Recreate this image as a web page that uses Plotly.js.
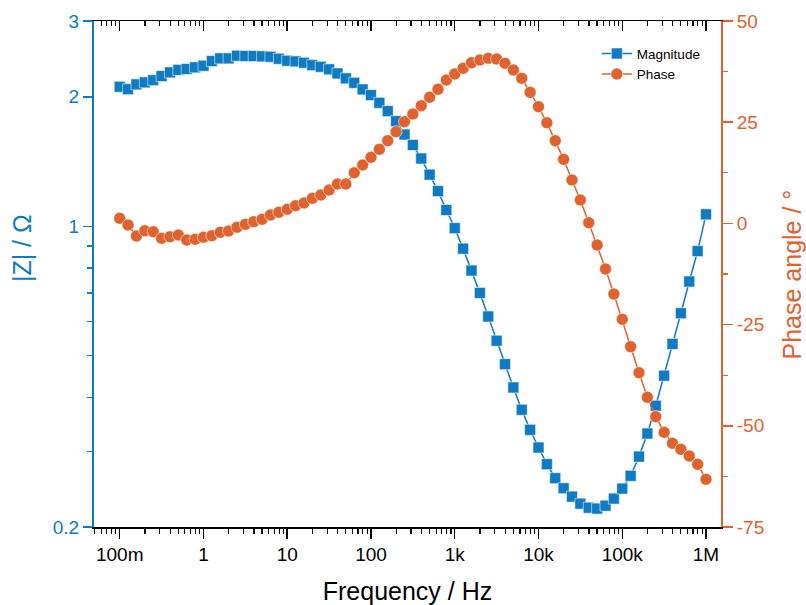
<!DOCTYPE html>
<html>
<head>
<meta charset="utf-8">
<script src="https://cdn.plot.ly/plotly-3.0.1.min.js"></script>
<style>
  html, body { margin: 0; padding: 0; background: #ffffff; }
  #chart { width: 806px; height: 605px; }
</style>
</head>
<body>
<div id="chart"></div>
<script>
// Impedance spectrum (Bode representation): |Z| on a log scale, phase angle on a linear scale
const frequency = [
  0.1, 0.1259, 0.1585, 0.1995, 0.2512, 0.3162, 0.3981, 0.5012, 0.631, 0.7943,
  1, 1.259, 1.585, 1.995, 2.512, 3.162, 3.981, 5.012, 6.31, 7.943,
  10, 12.59, 15.85, 19.95, 25.12, 31.62, 39.81, 50.12, 63.1, 79.43,
  100, 125.9, 158.5, 199.5, 251.2, 316.2, 398.1, 501.2, 631, 794.3,
  1000, 1259, 1585, 1995, 2512, 3162, 3981, 5012, 6310, 7943,
  10000, 12590, 15850, 19950, 25120, 31620, 39810, 50120, 63100, 79430,
  100000, 125900, 158500, 199500, 251200, 316200, 398100, 501200, 631000, 794300,
  1000000
];

const magnitude = [
  2.110, 2.083, 2.137, 2.160, 2.186, 2.234, 2.279, 2.310, 2.320, 2.341,
  2.361, 2.421, 2.456, 2.456, 2.491, 2.487, 2.487, 2.483, 2.477, 2.451,
  2.425, 2.417, 2.399, 2.369, 2.348, 2.316, 2.266, 2.207, 2.155, 2.080,
  2.018, 1.936, 1.852, 1.755, 1.634, 1.545, 1.437, 1.318, 1.207, 1.091,
  0.990, 0.887, 0.789, 0.700, 0.617, 0.542, 0.478, 0.422, 0.3746, 0.3364,
  0.3060, 0.2799, 0.2597, 0.2461, 0.2353, 0.2266, 0.2218, 0.2207, 0.2242, 0.2328,
  0.2456, 0.2630, 0.2915, 0.3298, 0.3827, 0.4495, 0.5328, 0.6279, 0.7440, 0.8755,
  1.066
];

const phase = [
  1.26, -0.40, -3.11, -1.80, -2.05, -3.68, -3.29, -2.87, -4.10, -3.93,
  -3.43, -3.04, -2.20, -1.88, -0.96, -0.22, 0.42, 1.01, 2.07, 2.74,
  3.48, 4.37, 5.04, 6.20, 7.02, 8.25, 9.73, 9.73, 12.52, 14.43,
  16.33, 18.30, 20.43, 22.65, 25.12, 27.03, 29.08, 31.15, 33.13, 35.42,
  36.91, 38.32, 39.70, 40.37, 40.79, 40.61, 39.55, 37.90, 35.84, 32.39,
  28.83, 24.88, 20.43, 15.83, 10.72, 5.78, 0.17, -5.34, -11.26, -17.44,
  -23.69, -30.46, -36.88, -42.96, -47.75, -51.61, -54.32, -55.80, -57.46, -59.51,
  -63.22
];

const freqTickVals = [0.1, 1, 10, 100, 1e3, 1e4, 1e5, 1e6];
const freqTickText = ['100m', '1', '10', '100', '1k', '10k', '100k', '1M'];
const magTickVals = [0.2, 1, 2, 3];
const magTickText = ['0.2', '1', '2', '3'];
const magMinorVals = [0.3, 0.4, 0.5, 0.6, 0.7, 0.8, 0.9];
const phaseTickVals = [-75, -50, -25, 0, 25, 50];
const phaseTickText = ['-75', '-50', '-25', '0', '25', '50'];
const phaseMinorVals = [-62.5, -37.5, -12.5, 12.5, 37.5];

const BLUE = '#0F7BC2';
const ORANGE = '#E0632F';
const FONT = 'Liberation Sans, Arial, sans-serif';

// minor ticks at 2..9 of every decade on the frequency axis
const freqMinorVals = [];
for (let e = -2; e <= 5; e++) {
  for (let m = 2; m <= 9; m++) freqMinorVals.push(m * Math.pow(10, e));
}

const xRange = [-1.307, 6.179];

const traces = [
  {
    x: frequency, y: magnitude, name: 'Magnitude',
    type: 'scatter', mode: 'lines+markers',
    line: { color: BLUE, width: 1.5 },
    marker: { symbol: 'square', size: 11, color: BLUE,
              line: { color: 'rgba(255,255,255,0.7)', width: 0.8 } },
    xaxis: 'x', yaxis: 'y'
  },
  {
    x: frequency, y: phase, name: 'Phase',
    type: 'scatter', mode: 'lines+markers',
    line: { color: ORANGE, width: 1.5 },
    marker: { symbol: 'circle', size: 12, color: ORANGE,
              line: { color: 'rgba(255,255,255,0.7)', width: 0.8 } },
    xaxis: 'x', yaxis: 'y2'
  },
  {
    // carrier for the top frame axis
    x: [], y: [], xaxis: 'x2', yaxis: 'y',
    type: 'scatter', mode: 'markers',
    showlegend: false, hoverinfo: 'skip'
  }
];

const layout = {
  width: 806, height: 605,
  margin: { l: 94, r: 85, t: 21, b: 78 },
  paper_bgcolor: '#ffffff', plot_bgcolor: '#ffffff',
  font: { family: FONT, color: '#000000' },
  showlegend: true,
  legend: {
    x: 0.802, y: 0.966, xanchor: 'left', yanchor: 'top',
    bgcolor: 'rgba(255,255,255,0)', borderwidth: 0,
    font: { family: FONT, size: 13.5, color: '#000000' },
    tracegroupgap: 0, itemwidth: 30
  },
  xaxis: {
    type: 'log', range: xRange,
    showgrid: false, zeroline: false,
    showline: true, linecolor: '#000000', linewidth: 1.5,
    ticks: 'outside', ticklen: 10, tickwidth: 1.5, tickcolor: '#000000',
    tickmode: 'array', tickvals: freqTickVals, ticktext: freqTickText,
    tickfont: { family: FONT, size: 19, color: '#000000' },
    minor: { tickmode: 'array', tickvals: freqMinorVals, ticks: 'outside',
             ticklen: 5, tickwidth: 1.2, tickcolor: '#000000', showgrid: false },
    title: { text: 'Frequency / Hz', font: { family: FONT, size: 25, color: '#000000' }, standoff: 19 },
    anchor: 'y'
  },
  xaxis2: {
    type: 'log', range: xRange, overlaying: 'x', side: 'top', anchor: 'y',
    showgrid: false, zeroline: false,
    showline: true, linecolor: '#000000', linewidth: 1.5,
    ticks: 'inside', ticklen: 10, tickwidth: 1.5, tickcolor: '#000000',
    tickmode: 'array', tickvals: freqTickVals, showticklabels: false,
    minor: { tickmode: 'array', tickvals: freqMinorVals, ticks: 'inside',
             ticklen: 5, tickwidth: 1.2, tickcolor: '#000000', showgrid: false }
  },
  yaxis: {
    type: 'log', range: [Math.log10(0.2), Math.log10(3)],
    showgrid: false, zeroline: false,
    showline: true, linecolor: BLUE, linewidth: 2,
    ticks: 'outside', ticklen: 9, tickwidth: 1.5, tickcolor: BLUE,
    tickmode: 'array', tickvals: magTickVals, ticktext: magTickText,
    tickfont: { family: FONT, size: 19, color: BLUE },
    minor: { tickmode: 'array', tickvals: magMinorVals, ticks: 'outside',
             ticklen: 5, tickwidth: 1.2, tickcolor: BLUE, showgrid: false }
  },
  yaxis2: {
    overlaying: 'y', side: 'right', anchor: 'x',
    range: [-75, 50],
    showgrid: false, zeroline: false,
    showline: true, linecolor: ORANGE, linewidth: 2,
    ticks: 'outside', ticklen: 10, tickwidth: 1.5, tickcolor: ORANGE,
    tickmode: 'array', tickvals: phaseTickVals, ticktext: phaseTickText,
    tickfont: { family: FONT, size: 19, color: ORANGE },
    minor: { tickmode: 'array', tickvals: phaseMinorVals, ticks: 'outside',
             ticklen: 5, tickwidth: 1.2, tickcolor: ORANGE, showgrid: false }
  },
  annotations: [
    {
      text: '|Z| / \u03A9', textangle: -90,
      xref: 'paper', yref: 'paper', x: -0.115, y: 0.551,
      xanchor: 'center', yanchor: 'middle', showarrow: false,
      font: { family: FONT, size: 25, color: BLUE }
    },
    {
      text: 'Phase angle / \u00B0', textangle: -90,
      xref: 'paper', yref: 'paper', x: 1.114, y: 0.50,
      xanchor: 'center', yanchor: 'middle', showarrow: false,
      font: { family: FONT, size: 25, color: ORANGE }
    }
  ]
};

Plotly.newPlot('chart', traces, layout, { displayModeBar: false, staticPlot: true });
</script>
</body>
</html>
